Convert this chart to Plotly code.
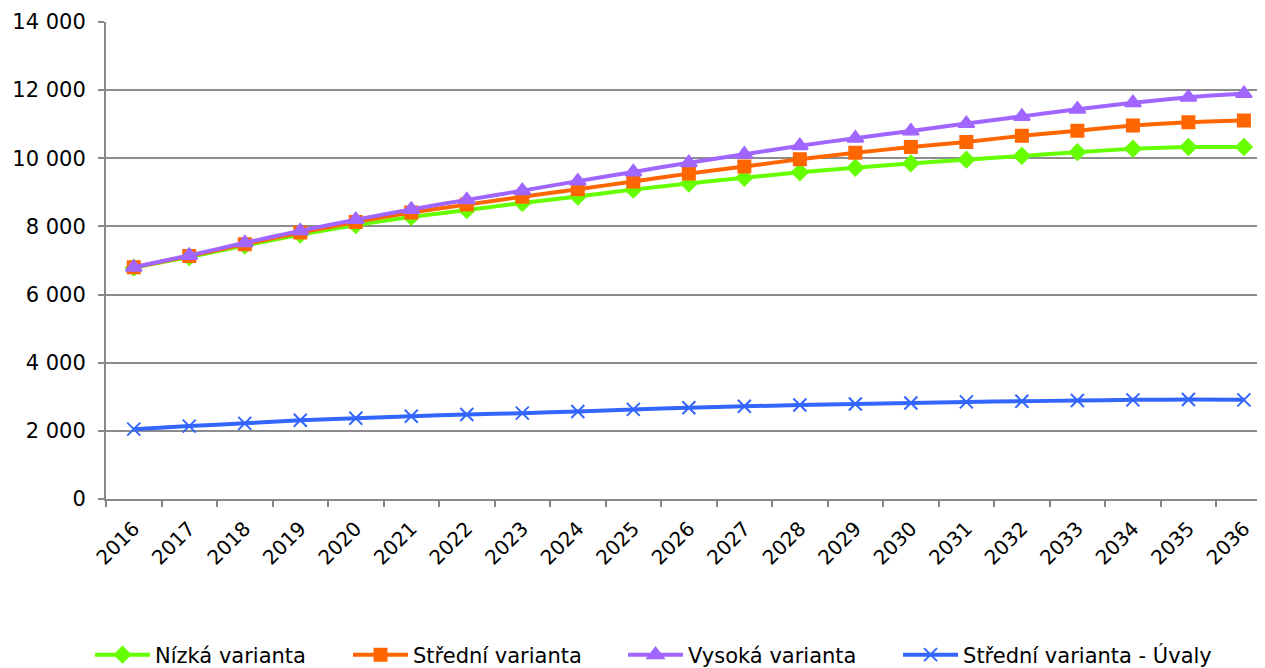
import plotly.graph_objects as go

years = [str(y) for y in range(2016, 2037)]
nizka = [6790, 7100, 7440, 7760, 8040, 8280, 8480, 8690, 8880, 9080, 9260,
         9430, 9590, 9720, 9850, 9960, 10070, 10180, 10280, 10330, 10330]
stredni = [6800, 7130, 7480, 7820, 8130, 8410, 8640, 8870, 9090, 9320, 9550,
           9760, 9970, 10160, 10330, 10480, 10660, 10810, 10960, 11060, 11110]
vysoka = [6800, 7150, 7520, 7870, 8200, 8500, 8780, 9050, 9330, 9600, 9870,
          10120, 10370, 10590, 10800, 11020, 11230, 11440, 11630, 11790, 11900]
uvaly = [2050, 2140, 2220, 2310, 2370, 2430, 2480, 2520, 2570, 2630, 2680,
         2720, 2760, 2790, 2820, 2850, 2870, 2890, 2910, 2920, 2910]
y_ticks = [0, 2000, 4000, 6000, 8000, 10000, 12000, 14000]
y_tick_labels = ["0", "2 000", "4 000", "6 000", "8 000", "10 000", "12 000", "14 000"]

series = [
    ("Nízká varianta", nizka, "#66FF00", "diamond", 12),
    ("Střední varianta", stredni, "#FF6600", "square", 12),
    ("Vysoká varianta", vysoka, "#A066FF", "triangle-up", 14),
    ("Střední varianta - Úvaly", uvaly, "#3366FF", "x-thin", 13),
]
legend_ids = ["legend", "legend2", "legend3", "legend4"]
legend_x = [-0.0138, 0.2088, 0.4461, 0.6834]

fig = go.Figure()
for (name, vals, color, sym, size), lid in zip(series, legend_ids):
    fig.add_trace(go.Scatter(
        x=years, y=vals, name=name, mode="lines+markers", legend=lid,
        line=dict(color=color, width=4, shape="spline", smoothing=0.6),
        marker=dict(symbol=sym, size=size, color=color,
                    line=dict(color=color, width=2)),
    ))

font = "DejaVu Sans, Verdana, sans-serif"
legend_common = dict(orientation="h", xanchor="left", y=-0.327, yanchor="middle",
                     font=dict(size=21), itemwidth=55, bgcolor="rgba(0,0,0,0)")
fig.update_layout(
    width=1257, height=660,
    margin=dict(l=98, r=0, t=14, b=169, autoexpand=False),
    plot_bgcolor="white", paper_bgcolor="white",
    font=dict(family=font, size=21, color="black"),
    showlegend=True,
    xaxis=dict(type="category", range=[-0.5, 20.38], showgrid=False, automargin=False,
               showline=True, linecolor="#888888", linewidth=2,
               ticks="outside", tickson="boundaries", ticklen=6, tickcolor="#888888", tickwidth=2,
               tickangle=-45, tickfont=dict(size=20), ticklabelstandoff=8),
    yaxis=dict(range=[0, 14000], tickvals=y_ticks, ticktext=y_tick_labels, automargin=False,
               showgrid=True, gridcolor="#8c8c8c", gridwidth=2,
               showline=True, linecolor="#888888", linewidth=2,
               ticks="outside", ticklen=6, tickcolor="#888888", tickwidth=2,
               zeroline=False, tickfont=dict(size=21), ticklabelstandoff=8),
)
for lid, lx in zip(legend_ids, legend_x):
    fig.update_layout({lid: dict(legend_common, x=lx)})
fig.write_html("out.html")
